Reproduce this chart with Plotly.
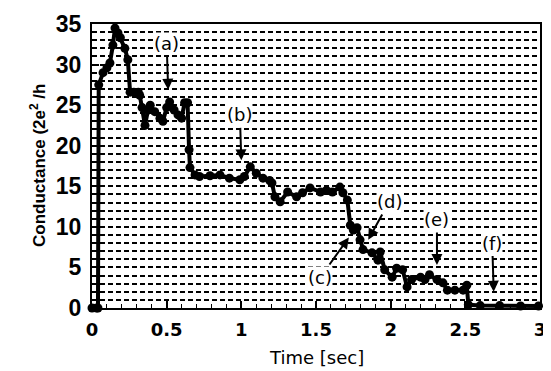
import plotly.graph_objects as go

time_s = [0, 0.03, 0.04, 0.045, 0.074, 0.10, 0.12, 0.14, 0.154, 0.174, 0.19, 0.22, 0.24, 0.255,
          0.28, 0.31, 0.32, 0.335, 0.355, 0.375, 0.39, 0.42, 0.455, 0.475, 0.50, 0.52, 0.55,
          0.576, 0.60, 0.62, 0.64, 0.65, 0.656, 0.69, 0.72, 0.79, 0.857, 0.92, 0.99, 1.02,
          1.06, 1.10, 1.145, 1.19, 1.205, 1.225, 1.26, 1.31, 1.37, 1.41, 1.46, 1.53, 1.57,
          1.61, 1.66, 1.68, 1.71, 1.73, 1.75, 1.775, 1.795, 1.815, 1.875, 1.915, 1.93, 1.96,
          2.01, 2.04, 2.08, 2.11, 2.14, 2.20, 2.23, 2.26, 2.31, 2.35, 2.38, 2.43, 2.485,
          2.51, 2.52, 2.60, 2.73, 2.87, 2.99]
conductance = [0, 0, 0, 27.5, 29, 29.6, 30.2, 32.4, 34.5, 33.9, 33.3, 32, 30.6, 26.6,
               26.6, 26.6, 26.2, 24.7, 22.5, 24.4, 25, 24.2, 23.4, 23, 24.7, 25.4, 24.4,
               23.8, 23.4, 25.3, 25.3, 19.5, 17.3, 16.4, 16.2, 16.3, 16.4, 16, 15.8, 16.2,
               17.4, 16.6, 16, 15.7, 15.4, 13.7, 13.1, 14.3, 13.7, 14.2, 14.8, 14.3, 14.5,
               14.3, 14.9, 14.2, 13.3, 10.2, 9.6, 9.9, 8.4, 7.2, 6.8, 5.9, 6.9, 4.7,
               3.8, 4.9, 4.7, 2.6, 3.5, 3.8, 3.5, 4.1, 3.5, 3.1, 2.2, 2.2, 2.2,
               2.8, 0.4, 0.3, 0.3, 0.25, 0.25]

x_ticks = [0, 0.5, 1, 1.5, 2, 2.5, 3]
x_tick_labels = ["0", "0.5", "1", "1.5", "2", "2.5", "3"]
y_ticks = [0, 5, 10, 15, 20, 25, 30, 35]

# labels: text, text position (data units), arrow tip (data units)
label_text = ["(a)", "(b)", "(c)", "(d)", "(e)", "(f)"]
label_x = [0.50, 0.99, 1.53, 1.99, 2.31, 2.68]
label_y = [32.6, 23.8, 3.8, 13.1, 10.9, 8.0]
tip_x = [0.51, 1.00, 1.72, 1.85, 2.31, 2.69]
tip_y = [26.9, 18.2, 8.7, 8.4, 5.3, 2.0]

fig = go.Figure()
fig.add_trace(go.Scatter(
    x=time_s, y=conductance, mode="lines+markers",
    line=dict(color="black", width=4),
    marker=dict(color="black", size=9),
    cliponaxis=False, showlegend=False,
))

font_lib = "Liberation Sans, Arial, sans-serif"
font_wide = "DejaVu Sans, Verdana, sans-serif"
for t, tx, ty, px, py in zip(label_text, label_x, label_y, tip_x, tip_y):
    fig.add_annotation(x=px, y=py, ax=tx, ay=ty, axref="x", ayref="y",
                       text=t, showarrow=True, arrowhead=2, arrowsize=1.1,
                       arrowwidth=2, arrowcolor="black", startstandoff=2,
                       font=dict(family=font_wide, size=18, color="black"),
                       bgcolor="white", borderpad=0)

fig.add_annotation(xref="paper", yref="paper", x=0, y=0.5, xshift=-67,
                   text="Conductance (2e<sup>2</sup> /h", textangle=-90, showarrow=False,
                   font=dict(size=17, family=font_lib, weight="bold", color="black"))
fig.add_annotation(xref="paper", yref="paper", x=0.5, y=0, yshift=-62,
                   text="Time [sec]", showarrow=False,
                   font=dict(size=18, family=font_wide, color="black"))

# page body has an 8px margin, so the figure is sized/offset to compensate
fig.update_layout(
    width=543, height=363,
    margin=dict(l=84, r=11, t=16, b=63),
    plot_bgcolor="white", paper_bgcolor="white",
    font=dict(family=font_lib, color="black"),
)
fig.update_xaxes(
    range=[0, 3], tickvals=x_ticks, ticktext=x_tick_labels, automargin=False,
    ticks="inside", ticklen=7, tickwidth=1.5, tickcolor="black",
    tickfont=dict(size=18, family=font_wide, weight="bold"),
    showgrid=False, zeroline=False, ticklabelstandoff=4,
    showline=True, linecolor="black", linewidth=2, mirror=True,
    minor=dict(dtick=0.1, ticks="inside", ticklen=4, tickcolor="black", tickwidth=1, showgrid=False),
)
fig.update_yaxes(
    range=[0, 35], tickvals=y_ticks, automargin=False,
    ticks="inside", ticklen=7, tickwidth=1.5, tickcolor="black",
    tickfont=dict(size=23, family=font_lib, weight="bold"),
    showgrid=False, zeroline=False, ticklabelstandoff=4,
    showline=True, linecolor="black", linewidth=2, mirror=True,
    minor=dict(dtick=1, ticks="inside", ticklen=5, tickcolor="black", tickwidth=1,
               showgrid=True, gridcolor="black", gridwidth=1.6, griddash="5px,3px"),
)
fig.write_html("out.html")
